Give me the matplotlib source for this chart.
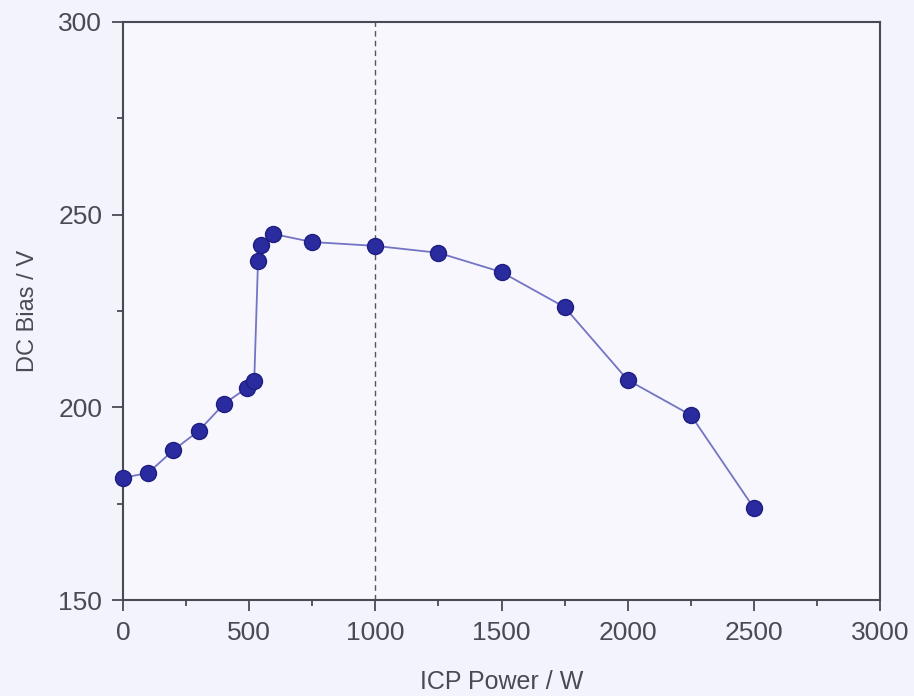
import matplotlib
matplotlib.use('Agg')

import matplotlib.pyplot as plt
from matplotlib.ticker import MultipleLocator

plt.rcParams['font.family'] = ['Liberation Sans', 'DejaVu Sans']

# ICP power (W) vs DC bias (V)
icp_power = [0, 100, 200, 300, 400, 490, 520, 535, 545, 595, 750, 1000, 1250, 1500, 1750, 2000, 2250, 2500]
dc_bias = [181.7, 183.0, 188.9, 193.9, 200.9, 205.0, 206.8, 238.0, 242.0, 245.0, 242.9, 241.9, 240.1, 235.1, 226.0, 207.1, 198.0, 173.9]

x_ticks = [0, 500, 1000, 1500, 2000, 2500, 3000]
y_ticks = [150, 200, 250, 300]
ref_power = 1000

bg = '#f3f3fb'
ink = '#4a4a55'

fig = plt.figure(figsize=(9.14, 6.96), dpi=100, facecolor=bg)
ax = fig.add_axes([0.1346, 0.1379, 0.8282, 0.8305], facecolor='#f7f7fd')

ax.axvline(ref_power, color='#555560', linestyle=(0, (4, 3)), linewidth=1.0, zorder=1)
ax.plot(icp_power, dc_bias, '-', color='#7474c4', linewidth=1.3, zorder=2)
ax.plot(icp_power, dc_bias, 'o', color='#2b2ba0', markeredgecolor='#1e1e80',
        markersize=11.5, zorder=3, clip_on=False)

ax.set_xlim(0, 3000)
ax.set_ylim(150, 300)
ax.set_xticks(x_ticks)
ax.set_yticks(y_ticks)
ax.xaxis.set_minor_locator(MultipleLocator(250))
ax.yaxis.set_minor_locator(MultipleLocator(25))

ax.tick_params(which='major', direction='out', length=8, width=1.3, colors=ink,
               labelsize=19, labelcolor=ink)
ax.tick_params(axis='x', which='major', pad=7)
ax.tick_params(axis='y', which='major', pad=7)
ax.tick_params(which='minor', direction='out', length=4, width=1.3, colors=ink)
for s in ax.spines.values():
    s.set_color(ink)
    s.set_linewidth(1.5)

ax.set_xlabel('ICP Power / W', fontsize=18, color=ink, labelpad=18)
ax.set_ylabel('DC Bias / V', fontsize=17, color=ink, labelpad=14)

plt.savefig('out.png', dpi=100, facecolor=bg)
